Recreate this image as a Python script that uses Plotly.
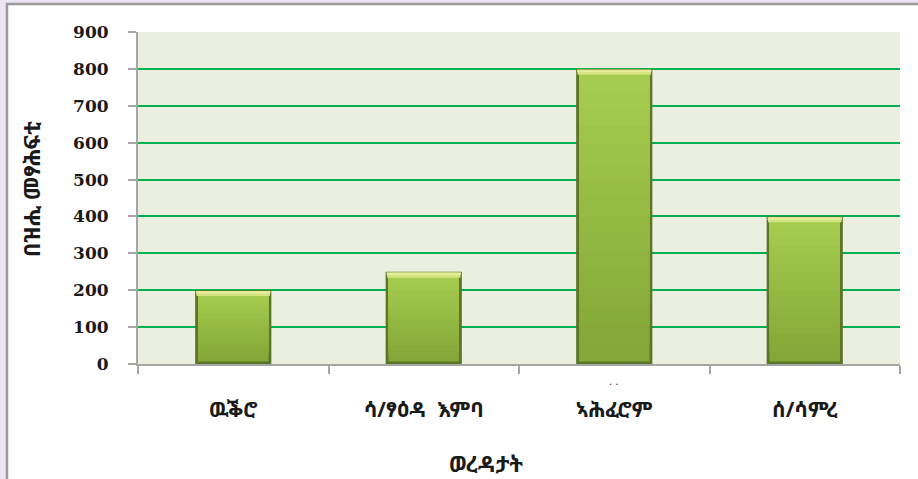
import plotly.graph_objects as go

# Number of books per woreda
woredas = ["ዉቕሮ", "ሳ/ፃዕዳ  እምባ", "ኣሕፈሮም", "ሰ/ሳምረ"]
books = [200, 250, 800, 400]
y_ticks = [0, 100, 200, 300, 400, 500, 600, 700, 800, 900]

x_title = "ወረዳታት"
y_title = "በዝሒ መፃሕፍቲ"

ETH_FONT = "Noto Sans Ethiopic, Abyssinica SIL, FreeSerif, DejaVu Sans, sans-serif"

# plot area in pixels
W, H = 918, 479
L, R, T, B = 138, 18, 32, 115
PW = W - L - R
PH = H - T - B


def px_x(p):
    return (p - L) / PW


def px_y(p):
    return (H - B - p) / PH


def mix(c1, c2, t):
    a = [int(c1[i:i + 2], 16) for i in (1, 3, 5)]
    b = [int(c2[i:i + 2], 16) for i in (1, 3, 5)]
    return "#" + "".join(f"{round(x + (y - x) * t):02x}" for x, y in zip(a, b))


fig = go.Figure()

# dark outline body of each bar
fig.add_trace(go.Bar(
    x=woredas, y=books, width=0.4,
    marker=dict(color="#5c7629", line=dict(width=0)),
    hoverinfo="skip", showlegend=False,
))

# vertical gradient fill, darker at the foot, lighter near the top;
# each layer runs up to the bar top so no seams appear between layers
inset = 7
N = 16
for k in range(N):
    t = k / (N - 1)
    lo = [inset + (v - 2 * inset) * k / N for v in books]
    top = [v - inset for v in books]
    fig.add_trace(go.Bar(
        x=woredas, y=[h - l for h, l in zip(top, lo)], base=lo, width=0.37,
        marker=dict(color=mix("#84a737", "#a5cc4f", t), line=dict(width=0)),
        hoverinfo="skip", showlegend=False,
    ))

# bevelled top edge
fig.add_trace(go.Bar(
    x=woredas, y=[14] * len(books), base=[v - 16 for v in books], width=0.385,
    marker=dict(color="#d6e482", line=dict(width=0)),
    hoverinfo="skip", showlegend=False,
))
fig.add_trace(go.Bar(
    x=woredas, y=[7] * len(books), base=[v - 9 for v in books], width=0.39,
    marker=dict(color="#e4ec9a", line=dict(width=0)),
    hoverinfo="skip", showlegend=False,
))

fig.update_layout(
    width=W, height=H,
    margin=dict(l=L, r=R, t=T, b=B, pad=0),
    paper_bgcolor="white",
    plot_bgcolor="#ebefdf",
    barmode="overlay",
    showlegend=False,
    xaxis=dict(
        type="category",
        showgrid=False,
        showline=True, linecolor="#a6a6a6", linewidth=2,
        ticks="outside", tickson="boundaries", ticklen=8, tickwidth=2, tickcolor="#a6a6a6",
        ticklabelstandoff=26,
        tickfont=dict(family=ETH_FONT, size=21, color="#1a1a1a", weight="bold"),
        range=[-0.5, 3.5],
    ),
    yaxis=dict(
        range=[0, 900],
        tickvals=y_ticks,
        showgrid=True, gridcolor="#00b050", gridwidth=2,
        zeroline=False,
        showline=True, linecolor="#a6a6a6", linewidth=2,
        ticks="outside", ticklen=8, tickwidth=2, tickcolor="#a6a6a6",
        ticklabelstandoff=16,
        tickfont=dict(family="DejaVu Serif", size=17, color="#1a1a1a", weight="bold"),
    ),
    annotations=[
        dict(text=x_title, xref="paper", yref="paper", x=px_x(486), y=px_y(463),
             xanchor="center", yanchor="middle",
             showarrow=False, font=dict(family=ETH_FONT, size=22, color="#1a1a1a", weight="bold")),
        dict(text=y_title, xref="paper", yref="paper", x=px_x(31), y=px_y(189),
             xanchor="center", yanchor="middle",
             showarrow=False, textangle=-90,
             font=dict(family=ETH_FONT, size=22, color="#1a1a1a", weight="bold")),
        dict(text=". .", xref="x", yref="paper", x=woredas[2], y=px_y(381),
             xanchor="center", yanchor="middle",
             showarrow=False, font=dict(family="DejaVu Sans", size=10, color="#1a1a1a")),
    ],
    shapes=[
        # outer frame: lavender margin and grey border
        dict(type="rect", xref="paper", yref="paper", x0=px_x(-2), x1=px_x(6), y0=px_y(H + 2), y1=px_y(-2),
             fillcolor="#ede4f3", line=dict(width=0), layer="above"),
        dict(type="rect", xref="paper", yref="paper", x0=px_x(-2), x1=px_x(W + 2), y0=px_y(3), y1=px_y(-2),
             fillcolor="#ede4f3", line=dict(width=0), layer="above"),
        dict(type="line", xref="paper", yref="paper", x0=px_x(7), x1=px_x(7), y0=px_y(H + 2), y1=px_y(3),
             line=dict(color="#9a9a9a", width=2.5), layer="above"),
        dict(type="line", xref="paper", yref="paper", x0=px_x(6), x1=px_x(W + 2), y0=px_y(4), y1=px_y(4),
             line=dict(color="#9a9a9a", width=2.5), layer="above"),
    ],
)

fig.write_html("out.html")
